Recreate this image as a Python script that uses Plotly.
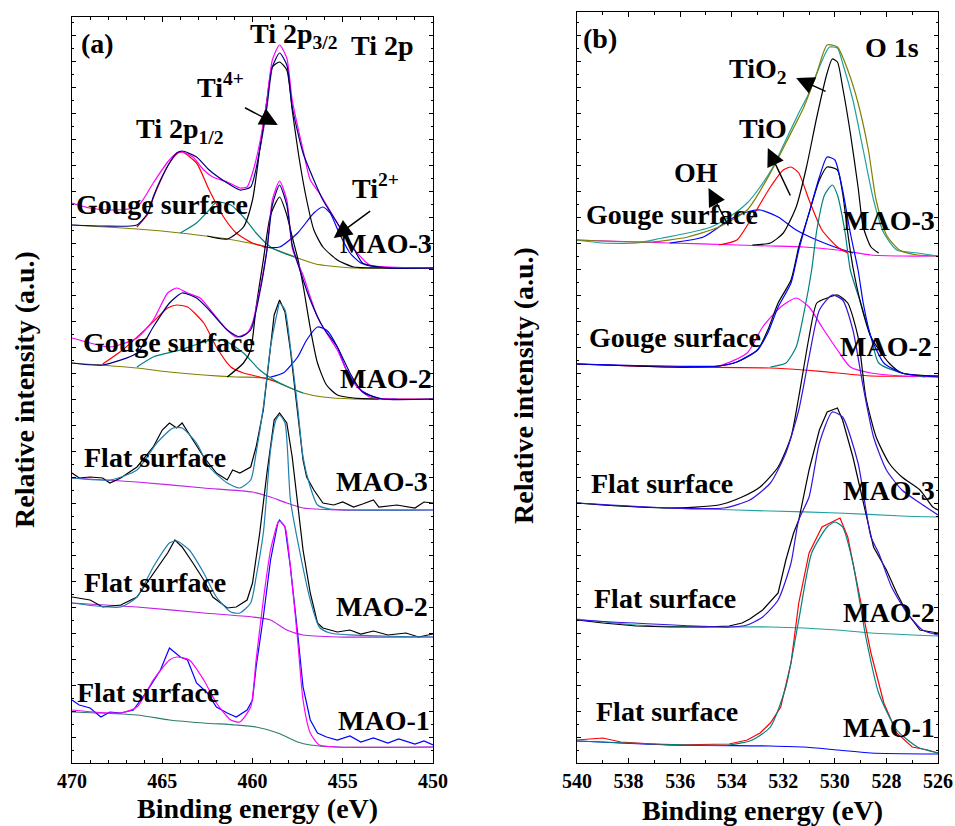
import plotly.graph_objects as go

# ---------------- Panel (a): Ti 2p ----------------
# Gouge surface MAO-3
a1_base_E = [470, 466.4, 464.0, 461.4, 459.2, 458.5, 457.5, 456.5, 455.7, 454.4, 450]
a1_base_I = [538, 534, 530, 524, 516, 512, 505, 499, 497, 495, 495]
a1_raw_E = [470, 469.0, 467.9, 466.4, 465.5, 464.7, 464.2, 463.9, 463.3, 462.7, 462.2, 461.4, 460.7, 460.3, 460.0,
            459.6, 459.2, 458.9, 458.5, 458.1, 457.8, 457.2, 456.8, 456.3, 455.5, 455.0, 454.2, 453.5, 452.4, 450]
a1_raw_I = [560, 555, 553, 556, 580, 601, 610, 611, 606, 593, 586, 581, 575, 576, 590,
            620, 663, 703, 718, 705, 663, 613, 583, 570, 546, 530, 510, 498, 496, 495]
a1_fit_E = [470, 468.3, 466.4, 465.8, 465.5, 465.1, 464.6, 464.2, 463.9, 463.1, 462.4, 461.4, 460.7, 460.1,
            459.6, 459.2, 458.9, 458.5, 458.1, 457.8, 457.2, 456.6, 456.1, 455.3, 454.4, 453.9, 452.5, 450]
a1_fit_I = [538, 537, 538, 550, 566, 583, 600, 610, 612, 606, 593, 580, 573, 576,
            613, 656, 696, 710, 698, 656, 610, 583, 563, 540, 515, 500, 495, 495]
a1_ti4_E = [462.5, 461.4, 460.5, 460.0, 459.6, 459.2, 458.9, 458.5, 458.1, 457.8, 457.4, 457.0, 456.6, 456.1, 455.3, 454.4, 453.0, 450]
a1_ti4_I = [527, 524, 536, 563, 613, 663, 696, 701, 693, 653, 603, 563, 533, 516, 503, 496, 495, 495]
a1_p12_E = [466.4, 465.8, 465.5, 465.1, 464.6, 464.2, 463.9, 463.1, 462.4, 461.6, 460.9, 460.0, 459.2]
a1_p12_I = [536, 549, 565, 582, 600, 609, 611, 600, 573, 546, 530, 520, 516]
a1_ti2a_E = [464.0, 463.1, 462.4, 462.0, 461.2, 460.5, 459.8, 459.0, 458.3, 457.5]
a1_ti2a_I = [530, 540, 553, 561, 558, 546, 530, 516, 510, 505]
a1_ti2b_E = [459.4, 458.5, 457.5, 456.6, 456.1, 455.7, 455.2, 454.6, 454.0, 453.1, 452.0]
a1_ti2b_I = [516, 516, 530, 550, 556, 550, 530, 510, 500, 496, 495]

# Gouge surface MAO-2
a2_base_E = [470, 466.4, 464.6, 462.7, 460.9, 459.2, 458.7, 457.9, 457.2, 456.1, 454.4, 450]
a2_base_I = [400, 395, 391, 388, 386, 385, 381, 375, 370, 366, 364, 364]
a2_raw_E = [470, 469.0, 467.9, 466.4, 465.5, 464.7, 464.2, 463.6, 462.9, 462.2, 461.4, 460.9, 460.3, 460.0, 459.6,
            459.2, 458.9, 458.5, 458.1, 457.8, 457.5, 457.2, 456.8, 456.4, 455.9, 455.3, 454.8, 454.2, 453.5, 452.4, 450]
a2_raw_I = [425, 420, 416, 425, 443, 470, 475, 470, 465, 450, 433, 426, 430, 440, 473,
            513, 563, 582, 563, 515, 500, 488, 466, 446, 430, 413, 393, 376, 366, 364, 364]
a2_fit_E = [470, 468.3, 466.4, 465.5, 464.6, 463.9, 463.1, 462.4, 461.4, 460.7, 460.1, 459.6, 459.2, 458.9,
            458.5, 458.1, 457.8, 457.5, 456.8, 456.1, 455.3, 454.6, 453.9, 452.8, 450]
a2_fit_I = [400, 398, 410, 436, 460, 470, 465, 453, 433, 426, 433, 470, 513, 558,
            578, 558, 518, 500, 463, 436, 416, 390, 371, 364, 364]
a2_ti4_E = [461.4, 460.5, 460.1, 459.8, 459.4, 459.0, 458.5, 458.1, 457.8, 457.5, 457.2, 456.8, 456.4, 455.9, 455.3, 454.4, 453.0]
a2_ti4_I = [386, 400, 413, 456, 503, 548, 566, 548, 526, 505, 478, 435, 400, 378, 368, 365, 364]
a2_p12_E = [468.3, 467.2, 465.8, 464.7, 464.2, 463.6, 462.7, 462.0, 461.2, 460.5, 459.6, 458.6]
a2_p12_I = [399, 413, 436, 455, 458, 456, 440, 416, 396, 390, 386, 381]
a2_ti2a_E = [466.4, 465.5, 464.0, 462.7, 462.0, 461.4, 460.5, 459.6, 458.8, 457.9, 457.2]
a2_ti2a_I = [396, 406, 413, 421, 423, 421, 410, 393, 383, 375, 370]
a2_ti2b_E = [459.0, 458.3, 457.5, 457.0, 456.4, 455.9, 455.3, 454.8, 454.0, 453.1, 452.0]
a2_ti2b_I = [386, 390, 406, 423, 436, 433, 416, 393, 373, 365, 364]

# Flat surface MAO-3
a3_base_E = [470, 466.4, 462.7, 460.0, 459.0, 458.1, 457.2, 455.3, 450]
a3_base_I = [285, 281, 275, 271, 266, 260, 255, 253, 253]
a3_raw_E = [470, 469.6, 469.0, 468.3, 467.9, 467.3, 466.4, 465.5, 465.0, 464.6, 464.2, 463.9, 463.3, 462.7, 462.0,
            461.4, 461.1, 460.7, 460.1, 459.8, 459.4, 459.0, 458.8, 458.5, 458.2, 457.9, 457.5, 457.2, 457.0,
            456.6, 456.1, 455.5, 455.0, 454.4, 453.9, 453.3, 453.0, 452.0, 451.0, 450.5, 450]
a3_raw_I = [290, 285, 286, 285, 280, 285, 296, 316, 333, 340, 335, 340, 323, 306, 290,
            283, 293, 290, 296, 316, 353, 413, 448, 463, 451, 413, 353, 303, 286,
            273, 260, 258, 261, 256, 259, 263, 256, 258, 255, 261, 260]
a3_fit_E = [470, 467.9, 466.4, 465.3, 464.4, 463.9, 463.1, 462.4, 461.4, 460.7, 460.1, 459.8, 459.4, 459.0,
            458.6, 458.5, 458.2, 457.9, 457.5, 457.2, 456.8, 456.4, 455.7, 450]
a3_fit_I = [285, 283, 293, 320, 335, 335, 320, 296, 280, 275, 283, 310, 356, 416,
            453, 460, 453, 416, 356, 306, 276, 258, 254, 253]

# Flat surface MAO-2
a4_base_E = [470, 466.4, 462.7, 460.0, 459.0, 458.1, 457.2, 455.3, 450]
a4_base_I = [160, 156, 150, 146, 143, 133, 128, 126, 126]
a4_raw_E = [470, 469.6, 469.0, 468.3, 467.3, 466.4, 465.5, 464.7, 464.3, 463.9, 463.3, 462.7, 462.2, 461.4,
            460.9, 460.3, 460.0, 459.6, 459.2, 459.0, 458.8, 458.5, 458.1, 457.8, 457.5, 457.2, 456.8,
            456.4, 456.1, 455.3, 454.6, 454.0, 453.3, 452.5, 451.5, 450.8, 450]
a4_raw_I = [166, 165, 163, 156, 158, 166, 190, 210, 223, 216, 200, 183, 166, 155,
            156, 163, 180, 230, 290, 316, 343, 350, 340, 306, 256, 213, 170,
            140, 135, 131, 133, 129, 132, 128, 130, 126, 129]
a4_fit_E = [470, 467.3, 466.4, 465.5, 464.6, 464.2, 463.5, 462.7, 462.0, 461.2, 460.7, 460.1, 459.8, 459.4,
            459.0, 458.7, 458.5, 458.2, 457.9, 457.4, 456.8, 456.3, 455.7, 450]
a4_fit_I = [160, 156, 166, 196, 220, 222, 213, 190, 166, 151, 150, 160, 186, 230,
            313, 343, 348, 340, 263, 213, 163, 136, 130, 126]

# Flat surface MAO-1
a5_base_E = [470, 466.4, 464.6, 462.7, 460.9, 459.8, 458.6, 457.5, 456.8, 455.3, 450]
a5_base_I = [51, 48, 43, 40, 38, 36, 30, 21, 18, 16, 16]
a5_raw_E = [470, 469.6, 469.0, 468.4, 467.9, 467.3, 466.6, 465.8, 465.1, 464.6, 464.0, 463.6, 463.1, 462.5,
            462.0, 461.4, 460.9, 460.3, 460.0, 459.8, 459.4, 459.0, 458.6, 458.5, 458.2, 457.9, 457.5,
            457.2, 456.8, 456.4, 455.9, 455.3, 454.6, 454.0, 453.3, 452.5, 451.9, 451.0, 450.5, 450]
a5_raw_I = [63, 58, 55, 46, 51, 50, 53, 73, 93, 115, 106, 103, 80, 70,
            56, 50, 46, 53, 63, 96, 146, 203, 240, 243, 236, 196, 130,
            76, 43, 30, 26, 23, 27, 21, 25, 20, 24, 19, 22, 18]
a5_fit_E = [470, 467.3, 466.4, 465.5, 464.6, 464.2, 463.5, 462.7, 462.0, 461.2, 460.7, 460.1, 459.8, 459.4,
            459.0, 458.6, 458.5, 458.2, 457.9, 457.5, 457.2, 456.8, 456.3, 455.3, 450]
a5_fit_I = [53, 50, 56, 83, 103, 106, 103, 83, 60, 43, 41, 56, 103, 163,
            213, 240, 242, 236, 196, 123, 63, 30, 18, 16, 16]

# ---------------- Panel (b): O 1s ----------------
# Gouge surface MAO-3
b1_base_E = [540, 536.4, 533.8, 532.5, 531.2, 529.9, 528.6, 527.4, 526]
b1_base_I = [523, 520, 518, 517, 516, 513, 508, 507, 507]
b1_raw_E = [540, 539.0, 537.7, 536.7, 535.7, 534.8, 534.1, 533.4, 532.9, 532.4, 531.9, 531.4, 531.0, 530.6,
            530.3, 530.2, 529.9, 529.7, 529.3, 528.9, 528.5, 528.1, 527.6, 526.8, 526]
b1_raw_I = [523, 520, 520, 525, 530, 536, 546, 560, 576, 596, 623, 650, 670, 696,
            713, 716, 715, 700, 663, 613, 563, 530, 513, 510, 507]
b1_fit_E = [540, 537.1, 535.7, 534.5, 533.4, 532.5, 531.9, 531.2, 530.7, 530.3, 529.9, 529.5, 529.1, 528.7,
            528.4, 528.0, 527.5, 526.8, 526]
b1_fit_I = [523, 521, 526, 536, 553, 590, 620, 656, 690, 718, 716, 693, 660, 613,
            563, 528, 513, 508, 507]
b1_tio2_E = [533.2, 532.5, 532.0, 531.5, 531.1, 530.7, 530.3, 530.1, 529.9, 529.7, 529.4, 529.1, 528.9, 528.6, 528.3]
b1_tio2_I = [518, 520, 530, 556, 596, 646, 690, 704, 701, 676, 630, 576, 536, 516, 510]
b1_tio_E = [534.5, 533.8, 533.2, 532.5, 532.0, 531.7, 531.4, 531.0, 530.5, 529.9, 529.5]
b1_tio_I = [518, 523, 546, 576, 593, 596, 590, 563, 533, 516, 510]
b1_oh_E = [536.4, 535.1, 534.1, 533.4, 532.9, 532.2, 531.5, 530.7, 529.9, 529.3]
b1_oh_I = [520, 526, 543, 551, 553, 546, 533, 523, 515, 510]

# Gouge surface MAO-2
b2_base_E = [540, 536.4, 532.5, 531.2, 529.9, 528.6, 526]
b2_base_I = [399, 396, 395, 393, 390, 387, 387]
b2_raw_E = [540, 536.4, 534.5, 533.8, 533.0, 532.6, 532.2, 531.7, 531.4, 531.0, 530.6, 530.3, 529.9, 529.7,
            529.5, 529.3, 529.0, 528.6, 527.9, 527.4, 526]
b2_raw_I = [399, 396, 397, 401, 413, 433, 460, 483, 516, 550, 583, 596, 593, 570,
            530, 496, 460, 426, 400, 390, 387]
b2_fit_E = [540, 534.5, 533.8, 533.0, 532.6, 532.2, 531.7, 531.4, 531.0, 530.6, 530.3, 530.0, 529.7, 529.4,
            529.1, 528.9, 528.6, 528.1, 527.4, 526]
b2_fit_I = [399, 397, 401, 413, 430, 456, 480, 513, 550, 586, 606, 603, 573, 530,
            493, 460, 426, 400, 390, 386]
b2_tio2_E = [532.5, 531.9, 531.5, 531.2, 530.9, 530.7, 530.4, 530.1, 529.9, 529.6, 529.4, 529.0, 528.6, 528.3, 527.4, 526.5]
b2_tio2_I = [396, 400, 416, 450, 493, 533, 568, 578, 568, 530, 493, 460, 426, 400, 390, 386]
b2_tio_E = [540, 536.4, 534.5, 533.4, 532.8, 532.1, 531.5, 531.0, 530.5, 529.9, 529.4, 528.6, 527.4, 526]
b2_tio_I = [399, 396, 397, 410, 436, 456, 465, 456, 436, 413, 396, 390, 387, 386]

# Flat surface MAO-3
b3_base_E = [540, 537.7, 535.1, 532.5, 529.9, 527.4, 526]
b3_base_I = [260, 256, 254, 252, 250, 247, 246]
b3_raw_E = [540, 539.0, 536.4, 534.5, 533.6, 532.9, 532.2, 531.7, 531.4, 531.0, 530.7, 530.3, 529.9, 529.5,
            529.1, 528.8, 528.4, 527.9, 527.4, 526.7, 526.2, 526]
b3_raw_I = [260, 258, 255, 258, 266, 276, 296, 326, 366, 426, 460, 465, 468, 460,
            426, 366, 326, 300, 286, 273, 256, 253]
b3_fit_E = [540, 536.4, 534.3, 533.3, 532.5, 531.9, 531.4, 531.0, 530.6, 530.1, 529.7, 529.3, 528.9, 528.5,
            528.0, 527.4, 526.7, 526]
b3_fit_I = [260, 255, 255, 263, 280, 310, 353, 406, 453, 468, 463, 433, 376, 326,
            293, 273, 260, 248]

# Flat surface MAO-2
b4_base_E = [540, 537.7, 535.1, 532.5, 529.9, 528.6, 526]
b4_base_I = [144, 138, 136, 136, 133, 130, 127]
b4_raw_E = [540, 539.0, 537.7, 536.4, 535.1, 534.1, 533.6, 533.3, 532.8, 532.2, 531.9, 531.6, 531.4, 531.0,
            530.6, 530.3, 529.9, 529.7, 529.3, 528.9, 528.5, 528.0, 527.6, 527.2, 526.7, 526]
b4_raw_I = [143, 140, 137, 136, 136, 137, 140, 144, 153, 170, 203, 230, 243, 293,
            333, 351, 355, 343, 306, 260, 216, 193, 170, 150, 133, 130]
b4_fit_E = [540, 534.1, 533.4, 532.8, 532.2, 531.7, 531.4, 531.0, 530.6, 530.1, 529.7, 529.1, 528.6, 528.3,
            527.8, 527.2, 526.6, 526]
b4_fit_I = [143, 136, 138, 146, 163, 200, 243, 266, 320, 351, 346, 300, 226, 210,
            176, 150, 133, 128]

# Flat surface MAO-1
b5_base_E = [540, 536.4, 532.5, 531.2, 529.9, 528.6, 526]
b5_base_I = [22, 18, 17, 16, 13, 10, 9]
b5_raw_E = [540, 539.0, 538.3, 536.4, 534.1, 533.4, 532.9, 532.5, 532.1, 531.7, 531.4, 531.0, 530.5, 530.1,
            529.8, 529.5, 529.1, 528.6, 528.1, 527.6, 527.0, 526.4, 526]
b5_raw_I = [23, 25, 21, 18, 19, 23, 30, 40, 56, 100, 160, 210, 236, 241,
            245, 226, 176, 110, 60, 30, 16, 13, 10]
b5_fit_E = [540, 534.1, 533.2, 532.5, 531.9, 531.4, 530.9, 530.3, 530.0, 529.7, 529.3, 528.8, 528.3, 527.6,
            526.8, 526]
b5_fit_I = [22, 18, 23, 36, 76, 143, 210, 236, 241, 236, 200, 126, 70, 33,
            16, 10]

# ---------------- tick values ----------------
a_ticks = [470, 465, 460, 455, 450]
b_ticks = [540, 538, 536, 534, 532, 530, 528, 526]

# colours
MAG = "#FF00FF"
NAVY = "#000080"
RED = "#FF0000"
TEAL = "#008080"
BLUE = "#0000FF"
OLIVE = "#808000"
STEEL = "#1F7FB0"
PURP = "#C020E8"
DKTEAL = "#2E7D6E"
CYAN = "#20A0A0"
INDIGO = "#3A10E0"

fig = go.Figure()


def add(E, I, color, panel, smooth=True, width=1.2):
    line = dict(color=color, width=width)
    if smooth:
        line.update(shape="spline", smoothing=0.6)
    fig.add_trace(go.Scatter(
        x=E, y=I, mode="lines", line=line,
        xaxis="x" if panel == "a" else "x2", yaxis="y" if panel == "a" else "y2",
        hoverinfo="skip", showlegend=False))


# Panel a traces
add(a1_base_E, a1_base_I, OLIVE, "a")
add(a1_p12_E, a1_p12_I, RED, "a")
add(a1_ti2a_E, a1_ti2a_I, TEAL, "a")
add(a1_ti2b_E, a1_ti2b_I, BLUE, "a")
add(a1_ti4_E, a1_ti4_I, "black", "a")
add(a1_raw_E, a1_raw_I, MAG, "a")
add(a1_fit_E, a1_fit_I, NAVY, "a")

add(a2_base_E, a2_base_I, OLIVE, "a")
add(a2_p12_E, a2_p12_I, RED, "a")
add(a2_ti2a_E, a2_ti2a_I, TEAL, "a")
add(a2_ti2b_E, a2_ti2b_I, BLUE, "a")
add(a2_ti4_E, a2_ti4_I, "black", "a")
add(a2_raw_E, a2_raw_I, MAG, "a")
add(a2_fit_E, a2_fit_I, NAVY, "a")

add(a3_base_E, a3_base_I, PURP, "a")
add(a3_raw_E, a3_raw_I, "black", "a", smooth=False)
add(a3_fit_E, a3_fit_I, STEEL, "a")

add(a4_base_E, a4_base_I, PURP, "a")
add(a4_raw_E, a4_raw_I, "black", "a", smooth=False)
add(a4_fit_E, a4_fit_I, STEEL, "a")

add(a5_base_E, a5_base_I, DKTEAL, "a")
add(a5_raw_E, a5_raw_I, BLUE, "a", smooth=False)
add(a5_fit_E, a5_fit_I, MAG, "a")

# Panel b traces
add(b1_base_E, b1_base_I, MAG, "b")
add(b1_oh_E, b1_oh_I, BLUE, "b")
add(b1_tio_E, b1_tio_I, RED, "b")
add(b1_tio2_E, b1_tio2_I, "black", "b")
add(b1_raw_E, b1_raw_I, CYAN, "b")
add(b1_fit_E, b1_fit_I, OLIVE, "b")

add(b2_base_E, b2_base_I, RED, "b")
add(b2_tio_E, b2_tio_I, MAG, "b")
add(b2_tio2_E, b2_tio2_I, TEAL, "b")
add(b2_raw_E, b2_raw_I, "black", "b")
add(b2_fit_E, b2_fit_I, BLUE, "b")

add(b3_base_E, b3_base_I, CYAN, "b")
add(b3_raw_E, b3_raw_I, "black", "b")
add(b3_fit_E, b3_fit_I, INDIGO, "b")

add(b4_base_E, b4_base_I, CYAN, "b")
add(b4_raw_E, b4_raw_I, "black", "b", smooth=False)
add(b4_fit_E, b4_fit_I, INDIGO, "b")

add(b5_base_E, b5_base_I, BLUE, "b")
add(b5_raw_E, b5_raw_I, RED, "b", smooth=False)
add(b5_fit_E, b5_fit_I, TEAL, "b")

FONT = "Liberation Serif, Times New Roman, serif"
W, H = 955, 826
OFF = 0  # page body margin removed by post_script
LSIZE = 28


def lab(text, x, y, panel, size=LSIZE):
    fig.add_annotation(text=text, x=x, y=y, xref="x" if panel == "a" else "x2",
                       yref="y" if panel == "a" else "y2", showarrow=False,
                       xanchor="center", yanchor="middle",
                       font=dict(family=FONT, size=size, color="black", weight="bold"))


def arrow(x0, y0, x1, y1, panel):
    xr = "x" if panel == "a" else "x2"
    yr = "y" if panel == "a" else "y2"
    fig.add_annotation(x=x1, y=y1, ax=x0, ay=y0, xref=xr, yref=yr, axref=xr, ayref=yr,
                       text="", showarrow=True, arrowhead=2, arrowsize=2.4, arrowwidth=1.5,
                       arrowcolor="black")


# Panel a labels
lab("(a)", 468.6, 719, "a")
lab("Ti 2p<sub>3/2</sub>", 457.7, 727, "a")
lab("Ti 2p", 452.8, 717, "a")
lab("Ti<sup>4+</sup>", 461.8, 678, "a")
lab("Ti 2p<sub>1/2</sub>", 464.0, 633, "a")
lab("Ti<sup>2+</sup>", 453.2, 577, "a")
lab("Gouge surface", 465.0, 559, "a")
lab("MAO-3", 452.6, 520, "a")
lab("Gouge surface", 464.6, 421, "a")
lab("MAO-2", 452.6, 385, "a")
lab("Flat surface", 465.4, 306, "a")
lab("MAO-3", 452.8, 282, "a")
lab("Flat surface", 465.4, 181, "a")
lab("MAO-2", 452.8, 157, "a")
lab("Flat surface", 465.8, 71, "a")
lab("MAO-1", 452.7, 43, "a")
arrow(460.5, 656, 458.6, 638, "a")
arrow(453.4, 553, 455.5, 525, "a")

# Panel b labels
lab("(b)", 539.1, 725, "b")
lab("O 1s", 527.8, 716, "b")
lab("TiO<sub>2</sub>", 533.0, 693, "b")
lab("TiO", 532.8, 635, "b")
lab("OH", 535.4, 591, "b")
lab("Gouge surface", 536.3, 549, "b")
lab("MAO-3", 527.9, 543, "b")
lab("Gouge surface", 536.2, 426, "b")
lab("MAO-2", 528.0, 417, "b")
lab("Flat surface", 536.7, 280, "b")
lab("MAO-3", 527.9, 273, "b")
lab("Flat surface", 536.6, 165, "b")
lab("MAO-2", 527.9, 151, "b")
lab("Flat surface", 536.5, 52, "b")
lab("MAO-1", 527.9, 36, "b")
arrow(530.3, 671, 531.5, 685, "b")
arrow(531.7, 566, 532.6, 615, "b")
arrow(534.1, 536, 534.9, 575, "b")


def px_x(px):
    return (px - OFF) / W


def px_y(py):
    return 1 - (py - OFF) / H


def paper_note(text, px, py, angle=0, size=LSIZE):
    fig.add_annotation(text=text, x=px_x(px), y=px_y(py), xref="paper", yref="paper",
                       showarrow=False, textangle=angle, xanchor="center", yanchor="middle",
                       font=dict(family=FONT, size=size, color="black", weight="bold"))


paper_note("Relative intensity (a.u.)", 24, 390, angle=-90)
paper_note("Relative intensity (a.u.)", 523, 386, angle=-90)
paper_note("Binding energy (eV)", 257, 808)
paper_note("Binding energy (eV)", 762, 810)

xcommon = dict(showline=True, linecolor="black", linewidth=1, mirror="ticks", ticks="inside",
               ticklen=5, tickcolor="black", showgrid=False, zeroline=False, automargin=False,
               tickfont=dict(family=FONT, size=20, color="black", weight="bold"))
ycommon = dict(showline=True, linecolor="black", linewidth=1, mirror="ticks", ticks="inside",
               ticklen=4, tickcolor="black", showgrid=False, zeroline=False, showticklabels=False,
               automargin=False, tick0=0, dtick=26,
               minor=dict(ticks="inside", ticklen=2, dtick=13, tickcolor="black"))

fig.update_layout(
    template="none",
    width=W, height=H, margin=dict(l=0, r=0, t=0, b=0, autoexpand=False),
    paper_bgcolor="white", plot_bgcolor="white", showlegend=False,
    xaxis=dict(domain=[px_x(72), px_x(433)], range=[470, 450], tickvals=a_ticks,
               minor=dict(ticks="inside", ticklen=3, dtick=1, tickcolor="black"), anchor="y", **xcommon),
    yaxis=dict(domain=[px_y(763), px_y(17)], range=[0, 746], anchor="x", **ycommon),
    xaxis2=dict(domain=[px_x(577), px_x(938)], range=[540, 526], tickvals=b_ticks,
                minor=dict(ticks="inside", ticklen=3, dtick=1, tickcolor="black"), anchor="y2", **xcommon),
    yaxis2=dict(domain=[px_y(763), px_y(12)], range=[0, 751], anchor="x2", **ycommon),
)

fig.write_html("out.html", config={"displayModeBar": False},
               post_script="document.body.style.margin='0px';document.body.style.overflow='hidden';")
